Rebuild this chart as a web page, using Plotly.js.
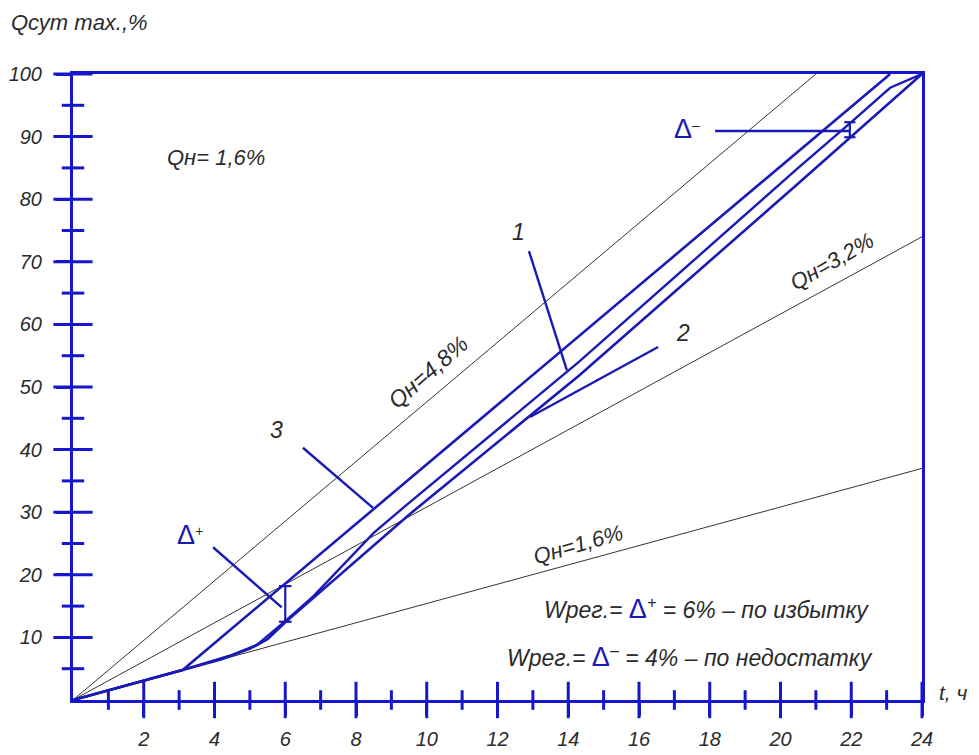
<!DOCTYPE html>
<html>
<head>
<meta charset="utf-8">
<script src="https://cdn.plot.ly/plotly-3.0.1.min.js"></script>
<style>html,body{margin:0;padding:0;background:#fff;}#chart{width:979px;height:755px;}</style>
</head>
<body>
<div id="chart"></div>
<script>
// ---- data ----
const xTickVals = [2, 4, 6, 8, 10, 12, 14, 16, 18, 20, 22, 24];
const xTickText = ['2', '4', '6', '8', '10', '12', '14', '16', '18', '20', '22', '24'];
const xMinorVals = [1, 3, 5, 7, 9, 11, 13, 15, 17, 19, 21, 23];
const yTickVals = [10, 20, 30, 40, 50, 60, 70, 80, 90, 100];
const yTickText = ['10', '20', '30', '40', '50', '60', '70', '80', '90', '100'];
const yMinorVals = [5, 15, 25, 35, 45, 55, 65, 75, 85, 95];

// thin rays Qн = 4.8 %, 3.2 %, 1.6 %
const ray48T = [0, 21.0];
const ray48Q = [0, 100];
const ray32T = [0, 24];
const ray32Q = [0, 74];
const ray16T = [0, 24];
const ray16Q = [0, 37];

// curve 3 (upper)
const curve3T = [0, 3.1, 23.1];
const curve3Q = [0, 4.8, 100];
// curve 1 (middle)
const curve1T = [0, 3.1, 4.5, 5.2, 6.0, 6.8, 8.5, 9.5, 14.3, 20.5, 22.0, 23.1, 24];
const curve1Q = [0, 4.8, 7.2, 8.8, 12.6, 16.6, 26.7, 31.5, 54.0, 85.0, 92.3, 97.8, 100];
// curve 2 (lower)
const curve2T = [0, 3.1, 4.2, 5.0, 5.5, 6.0, 6.8, 9.5, 14.3, 20.5, 24];
const curve2Q = [0, 4.8, 6.5, 8.2, 9.7, 12.4, 16.3, 29.6, 51.8, 82.5, 100];

// leader lines
const lead1T = [12.89, 13.96];
const lead1Q = [71.7, 52.7];
const lead2T = [16.54, 12.92];
const lead2Q = [56.4, 45.2];
const lead3T = [6.5, 8.48];
const lead3Q = [40.3, 30.7];
const leadPlusT = [3.96, 5.9];
const leadPlusQ = [24.4, 14.8];
const leadMinusT = [18.15, 21.96];
const leadMinusQ = [90.9, 90.9];

// Δ brackets
const bracketPlusT = [6.0, 6.0];
const bracketPlusQ = [12.5, 18.2];
const bracketMinusT = [21.96, 21.96];
const bracketMinusQ = [89.9, 92.3];

// ---- styling ----
const AX = '#1616cc';
const CV = '#1a1ab4';
const TXT = '#2b2b2b';
const FAM = 'Liberation Sans, Arial, sans-serif';

function line(x, y, w, c) {
  return {x: x, y: y, mode: 'lines', line: {color: c, width: w}, hoverinfo: 'skip', showlegend: false};
}
function tickMarks(x, y, sym, size) {
  return {x: x, y: y, mode: 'markers', cliponaxis: false, hoverinfo: 'skip', showlegend: false,
    marker: {symbol: sym, size: size, color: AX, line: {color: AX, width: 3}}};
}

const zerosX = xTickVals.map(() => 0);
const zerosXm = xMinorVals.map(() => 0);
const zerosY = yTickVals.map(() => 0);
const zerosYm = yMinorVals.map(() => 0);

const traces = [
  line(ray48T, ray48Q, 1, '#333'),
  line(ray32T, ray32Q, 1, '#333'),
  line(ray16T, ray16Q, 1, '#333'),
  line(curve3T, curve3Q, 2.6, CV),
  line(curve1T, curve1Q, 2.4, CV),
  line(curve2T, curve2Q, 2.6, CV),
  line(lead1T, lead1Q, 2.4, CV),
  line(lead2T, lead2Q, 2.4, CV),
  line(lead3T, lead3Q, 2.4, CV),
  line(leadPlusT, leadPlusQ, 2.4, CV),
  line(leadMinusT, leadMinusQ, 2.4, CV),
  {x: bracketPlusT, y: bracketPlusQ, mode: 'lines+markers', line: {color: CV, width: 2.2},
   marker: {symbol: 'line-ew', size: 9, line: {color: CV, width: 2.2}}, hoverinfo: 'skip', showlegend: false},
  {x: bracketMinusT, y: bracketMinusQ, mode: 'lines+markers', line: {color: CV, width: 2.2},
   marker: {symbol: 'line-ew', size: 8, line: {color: CV, width: 2.2}}, hoverinfo: 'skip', showlegend: false},
  // cross ticks straddling the axes
  tickMarks(xTickVals, zerosX, 'line-ns', 26),
  tickMarks(xMinorVals, zerosXm, 'line-ns', 14),
  tickMarks(zerosY, yTickVals, 'line-ew', 28),
  tickMarks(zerosYm, yMinorVals, 'line-ew', 16)
];

function tf(size) { return {family: FAM, size: size, color: TXT, style: 'italic'}; }

function ann(x, y, text, size, angle) {
  return {x: x, y: y, xref: 'x', yref: 'y', text: text, showarrow: false,
    font: tf(size), textangle: angle || 0};
}

const D = (s) => `<span style="color:${CV};font-size:27px;font-style:normal">Δ</span>` + s;

const annotations = [
  {x: -0.075, y: 1.083, xref: 'paper', yref: 'paper', xanchor: 'left', yanchor: 'middle',
   text: 'Qсут max.,%', showarrow: false, font: tf(22)},
  {x: 1.018, y: 0.012, xref: 'paper', yref: 'paper', xanchor: 'left', yanchor: 'middle',
   text: 't, ч', showarrow: false, font: tf(21)},
  ann(4.05, 86.6, 'Qн= 1,6%', 22, 0),
  ann(10.04, 52.4, 'Qн=4,8%', 23, -41),
  ann(21.46, 70.0, 'Qн=3,2%', 22, -30),
  ann(14.28, 24.9, 'Qн=1,6%', 22, -16),
  ann(12.6, 74.8, '1', 23, 0),
  ann(17.25, 58.6, '2', 23, 0),
  ann(5.74, 43.1, '3', 23, 0),
  ann(3.3, 26.4, D('<sup>+</sup>'), 20, 0),
  ann(17.35, 91.2, D('<sup>–</sup>'), 20, 0),
  ann(17.9, 14.6, 'Wрег.= ' + D('<sup>+</sup>') + ' = 6% – по избытку', 23, 0),
  ann(17.45, 7.0, 'Wрег.= ' + D('<sup>–</sup>') + ' = 4% – по недостатку', 23, 0)
];

const layout = {
  width: 979, height: 755,
  margin: {l: 73, r: 57, t: 74, b: 55},
  paper_bgcolor: '#fff', plot_bgcolor: '#fff',
  showlegend: false,
  xaxis: {
    range: [0, 24], showgrid: false, zeroline: false,
    showline: true, linecolor: AX, linewidth: 3, mirror: true,
    tickmode: 'array', tickvals: xTickVals, ticktext: xTickText,
    ticks: 'outside', ticklen: 13, tickwidth: 3, tickcolor: AX,
    tickfont: tf(20), ticklabelstandoff: 6
  },
  yaxis: {
    range: [0, 100], showgrid: false, zeroline: false,
    showline: true, linecolor: AX, linewidth: 3, mirror: true,
    tickmode: 'array', tickvals: yTickVals, ticktext: yTickText,
    ticks: 'outside', ticklen: 14, tickwidth: 3, tickcolor: AX,
    tickfont: tf(20), ticklabelstandoff: 10
  },
  annotations: annotations
};

Plotly.newPlot('chart', traces, layout, {displayModeBar: false, staticPlot: true});
</script>
</body>
</html>
